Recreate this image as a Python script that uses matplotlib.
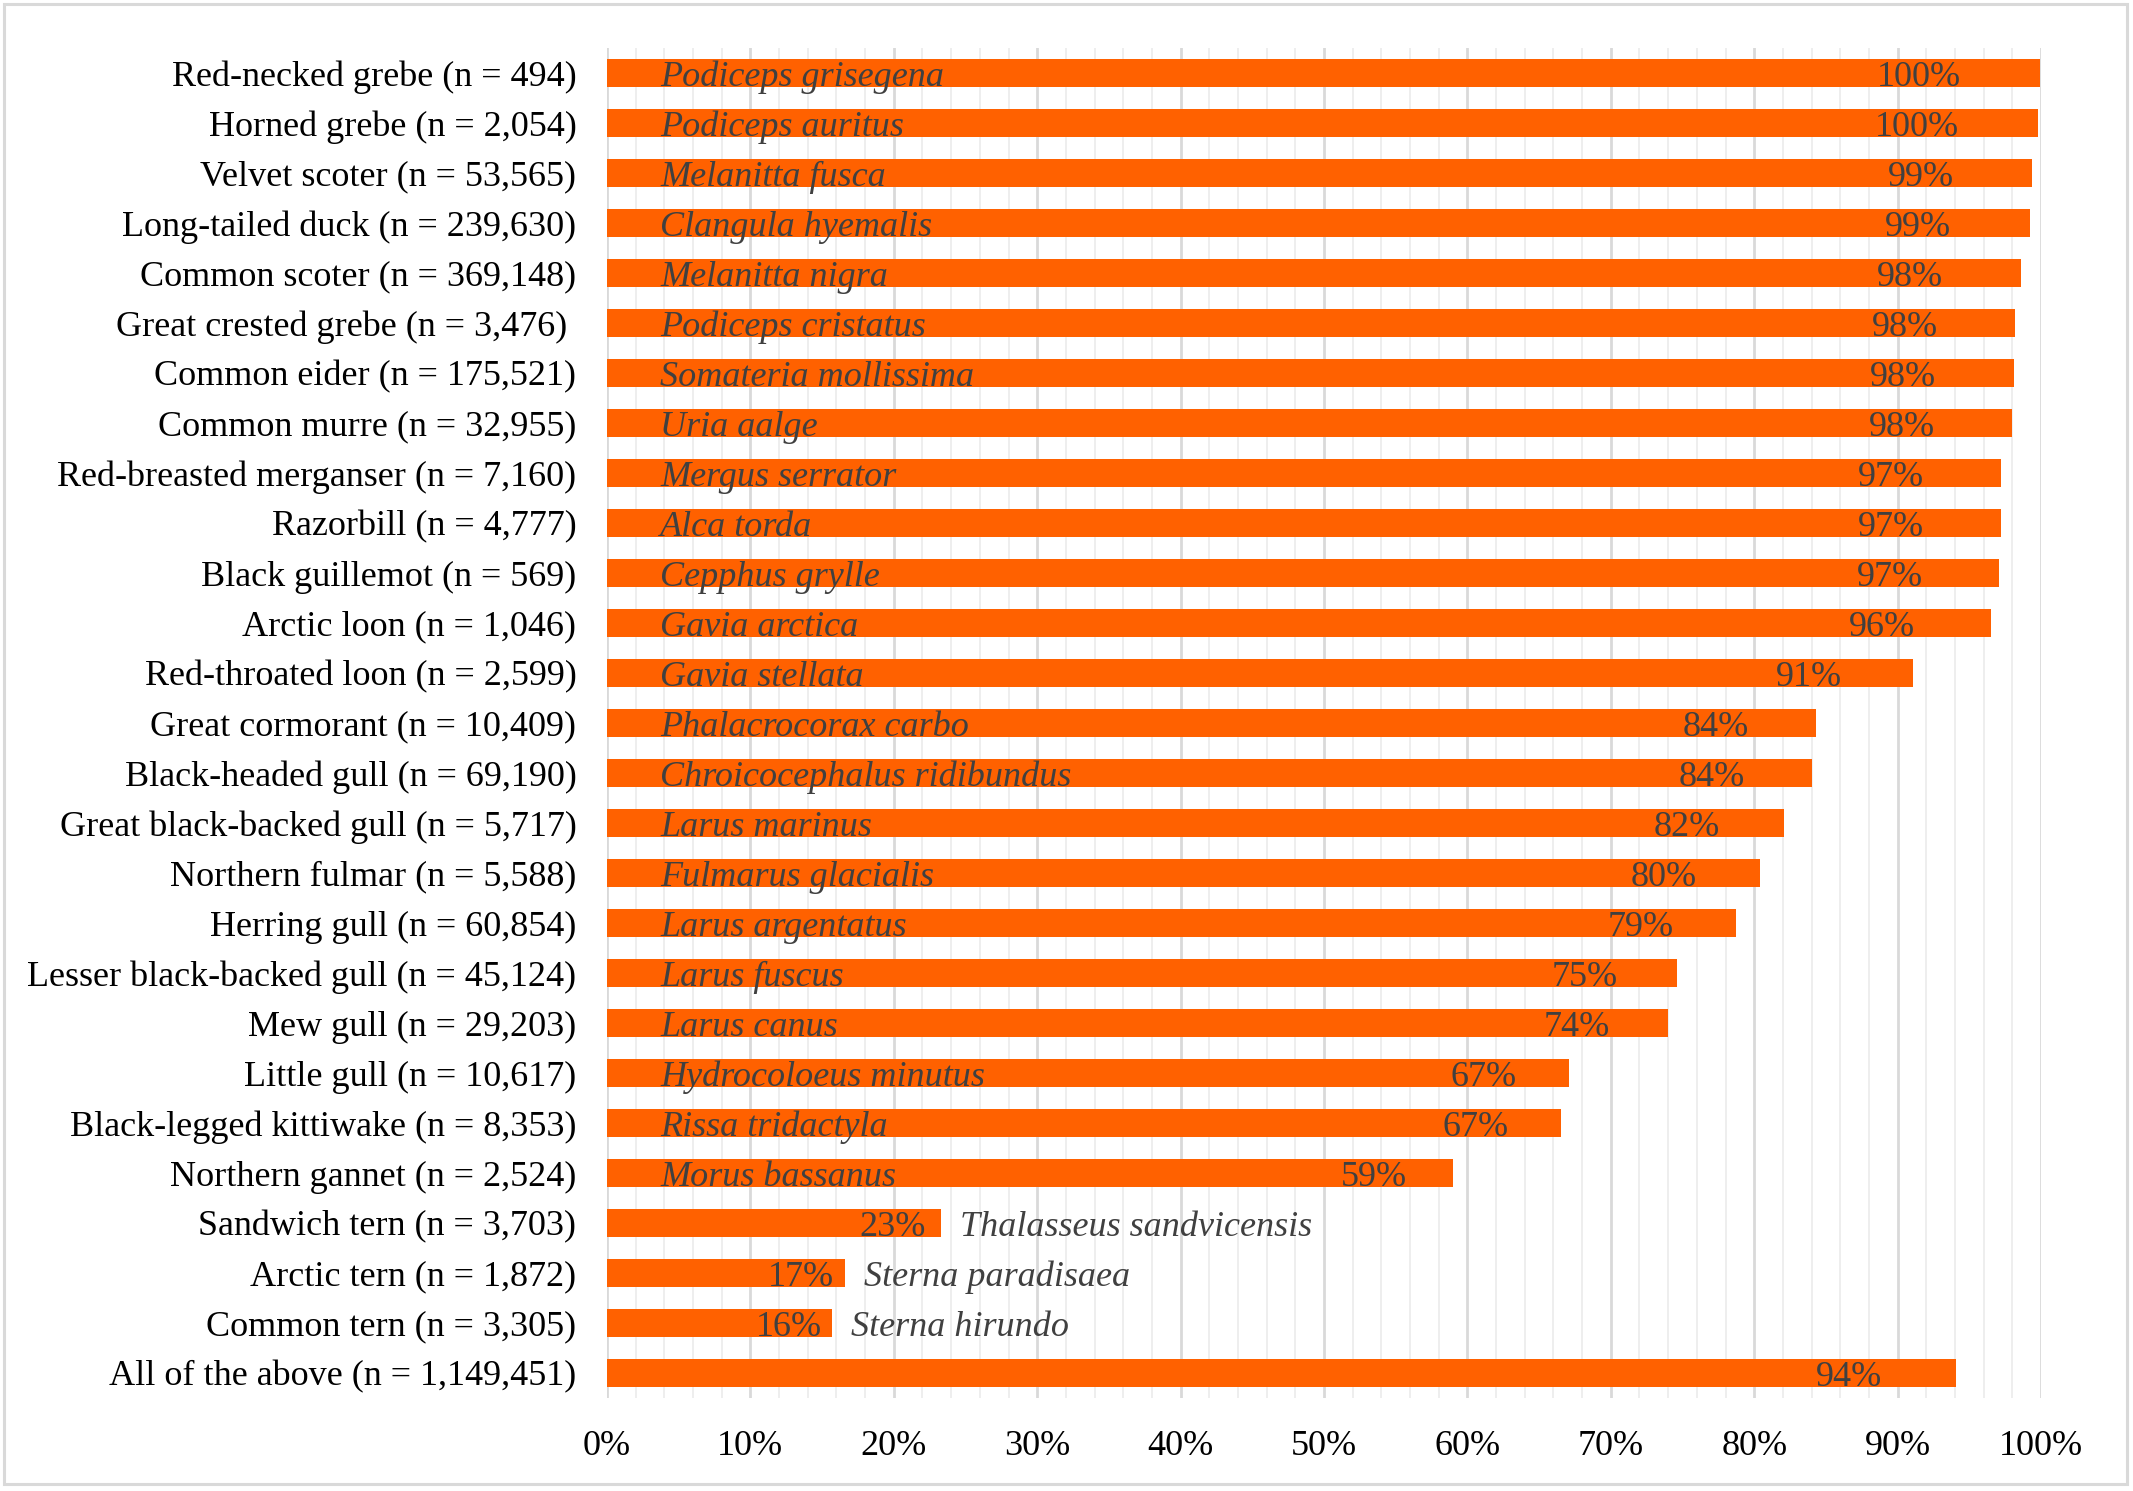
import matplotlib
matplotlib.use("Agg")
import matplotlib.pyplot as plt
from matplotlib.ticker import MultipleLocator, PercentFormatter
from matplotlib.patches import Rectangle

categories = [
    "Red-necked grebe (n = 494)",
    "Horned grebe (n = 2,054)",
    "Velvet scoter (n = 53,565)",
    "Long-tailed duck (n = 239,630)",
    "Common scoter (n = 369,148)",
    "Great crested grebe (n = 3,476) ",
    "Common eider (n = 175,521)",
    "Common murre (n = 32,955)",
    "Red-breasted merganser (n = 7,160)",
    "Razorbill (n = 4,777)",
    "Black guillemot (n = 569)",
    "Arctic loon (n = 1,046)",
    "Red-throated loon (n = 2,599)",
    "Great cormorant (n = 10,409)",
    "Black-headed gull (n = 69,190)",
    "Great black-backed gull (n = 5,717)",
    "Northern fulmar (n = 5,588)",
    "Herring gull (n = 60,854)",
    "Lesser black-backed gull (n = 45,124)",
    "Mew gull (n = 29,203)",
    "Little gull (n = 10,617)",
    "Black-legged kittiwake (n = 8,353)",
    "Northern gannet (n = 2,524)",
    "Sandwich tern (n = 3,703)",
    "Arctic tern (n = 1,872)",
    "Common tern (n = 3,305)",
    "All of the above (n = 1,149,451)",
]

species = [
    "Podiceps grisegena", "Podiceps auritus", "Melanitta fusca", "Clangula hyemalis",
    "Melanitta nigra", "Podiceps cristatus", "Somateria mollissima", "Uria aalge",
    "Mergus serrator", "Alca torda", "Cepphus grylle", "Gavia arctica",
    "Gavia stellata", "Phalacrocorax carbo", "Chroicocephalus ridibundus",
    "Larus marinus", "Fulmarus glacialis", "Larus argentatus", "Larus fuscus",
    "Larus canus", "Hydrocoloeus minutus", "Rissa tridactyla", "Morus bassanus",
    "Thalasseus sandvicensis", "Sterna paradisaea", "Sterna hirundo", "",
]

values = [
    0.999, 0.998, 0.994, 0.992, 0.986, 0.982, 0.981, 0.980, 0.972, 0.972,
    0.971, 0.965, 0.911, 0.843, 0.840, 0.821, 0.804, 0.787, 0.746, 0.740,
    0.671, 0.665, 0.590, 0.233, 0.166, 0.157, 0.941,
]

pct_labels = [
    "100%", "100%", "99%", "99%", "98%", "98%", "98%", "98%", "97%", "97%",
    "97%", "96%", "91%", "84%", "84%", "82%", "80%", "79%", "75%", "74%",
    "67%", "67%", "59%", "23%", "17%", "16%", "94%",
]

W, H, DPI = 2133, 1491, 100
fig = plt.figure(figsize=(W / DPI, H / DPI), dpi=DPI)
fig.patch.set_facecolor("white")

SERIF = ["Liberation Serif", "DejaVu Serif"]
BAR = "#FF6100"
TXT = "#404040"
FS = 26

ax = fig.add_axes([607 / W, 1 - 1398 / H, (2041 - 607) / W, (1398 - 48) / H])
ypos = list(range(len(categories)))
BH = 0.55
ax.barh(ypos, values, height=BH, color=BAR, zorder=3)

ax.set_xlim(0, 1)
ax.set_ylim(len(categories) - 0.5, -0.5)
ax.set_yticks(ypos)
ax.set_yticklabels(categories, fontfamily=SERIF, fontsize=FS, color="black")
ax.xaxis.set_major_locator(MultipleLocator(0.1))
ax.xaxis.set_minor_locator(MultipleLocator(0.02))
ax.xaxis.set_major_formatter(PercentFormatter(1.0, decimals=0))
ax.tick_params(axis="x", which="major", labelsize=FS, length=0, pad=23, labelcolor="black")
ax.tick_params(axis="x", which="minor", length=0)
ax.tick_params(axis="y", length=0, pad=22)
for lbl in ax.get_xticklabels():
    lbl.set_fontfamily(SERIF)

ax.grid(axis="x", which="major", color="#D9D9D9", linewidth=2.0, zorder=0)
ax.grid(axis="x", which="minor", color="#EDEDED", linewidth=1.3, zorder=0)
ax.grid(axis="y", visible=False)
for s in ax.spines.values():
    s.set_visible(False)

base = BH / 2 - 0.01
for i, (v, sp, pl) in enumerate(zip(values, species, pct_labels)):
    if v < 0.4:
        ax.text(v * 0.955, i + base, pl, ha="right", va="baseline", fontsize=FS,
                fontfamily=SERIF, color=TXT, zorder=4)
        ax.text(v + 0.013, i + base, sp, ha="left", va="baseline", fontsize=FS,
                fontfamily=SERIF, style="italic", color=TXT, zorder=4)
    else:
        ax.text(v * 0.945, i + base, pl, ha="right", va="baseline", fontsize=FS,
                fontfamily=SERIF, color=TXT, zorder=4)
        if sp:
            ax.text(0.037, i + base, sp, ha="left", va="baseline", fontsize=FS,
                    fontfamily=SERIF, style="italic", color=TXT, zorder=4)

fig.patches.append(Rectangle((4 / W, 1 - 1484 / H), (2127 - 4) / W, (1484 - 4) / H,
                             transform=fig.transFigure, fill=False,
                             edgecolor="#D9D9D9", linewidth=2.2))

fig.savefig("out.png", dpi=DPI)
